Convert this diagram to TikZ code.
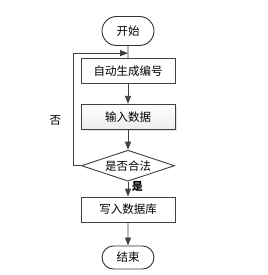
\documentclass[tikz,border=0pt]{standalone}
\usepackage{fontspec}
\setmainfont{Noto Sans CJK SC}
\usetikzlibrary{shapes,arrows.meta,positioning,shadows,calc}

\begin{document}
\begin{tikzpicture}[
        x=1pt, y=1pt,
        node distance=20pt and 20pt,
        font=\fontsize{11.5}{13}\selectfont,
        term/.style={rounded rectangle, draw=black!80, line width=0.9pt, fill=white, minimum width=52pt, minimum height=29pt, inner sep=0pt},
        procbox/.style={rectangle, draw=black!75, line width=0.9pt, fill=white, minimum width=94pt, minimum height=25pt, inner sep=0pt},
        decide/.style={diamond, aspect=3, draw=black!75, line width=0.9pt, fill=white, minimum width=93pt, minimum height=31pt, inner sep=0pt},
        arrow/.style={-{Triangle[length=8pt,width=6pt]}, line width=0.9pt, draw=black!75},
        link/.style={line width=0.9pt, draw=black!75}
    ]
    \useasboundingbox (0,0) rectangle (267,-275);

    \node[term] (start) at (128,-31) {开始};
    \node[procbox] (gen) [below=12pt of start] {自动生成编号};
    \node[procbox, top color=white, bottom color=black!7, drop shadow={shadow xshift=2pt, shadow yshift=-2pt, fill=black!20}] (input) [below=of gen] {输入数据};
    \node[decide] (check) [below=20pt of input] {是否合法};
    \node[procbox] (write) [below=15pt of check] {写入数据库};
    \node[term, minimum height=23pt] (stop) [below=23pt of write] {结束};

    \coordinate (join) at ($(start.south)!0.6!(gen.north)$);
    \coordinate (back) at (73,0);

    \draw[link] (start) -- (gen);
    \draw[arrow] (gen) -- (input);
    \draw[arrow] (input) -- (check);
    \draw[arrow] (check) -- node[pos=0.35, right, font=\fontsize{11}{12}\selectfont\bfseries] {是} (write);
    \draw[arrow] (write) -- (stop);
    \draw[arrow] (check.west) -- (check.west -| back) |- node[pos=0.2, left=8pt] {否} (join);

\end{tikzpicture}
\end{document}
